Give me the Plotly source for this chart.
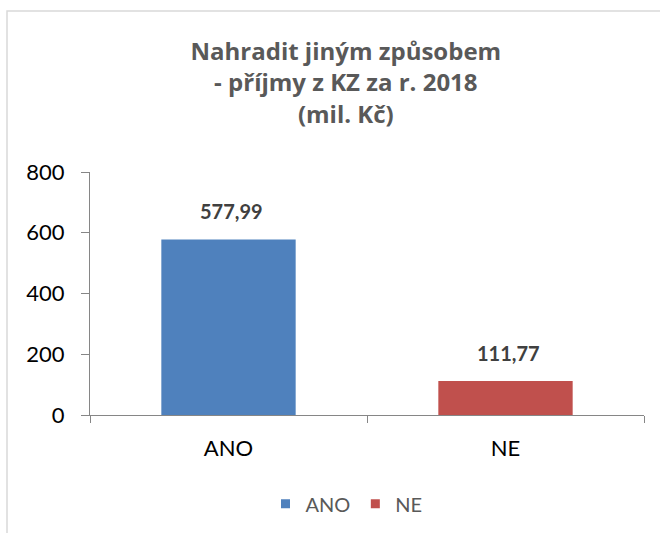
import plotly.graph_objects as go

categories = ["ANO", "NE"]
values = [577.99, 111.77]
colors = ["#4F81BD", "#C0504D"]
title_lines = ["Nahradit jiným způsobem", "- příjmy z KZ za r. 2018", "(mil. Kč)"]
y_ticks = [0, 200, 400, 600, 800]

FONT = "Lato"
fig = go.Figure()

fig.add_trace(go.Bar(
    x=categories, y=values,
    marker=dict(color=colors, line=dict(width=0)),
    width=0.485,
    showlegend=False,
    hoverinfo="skip",
))

# legend entries (small squares like the original)
for c, col in zip(categories, colors):
    fig.add_trace(go.Scatter(
        x=[None], y=[None], mode="markers", name=c,
        marker=dict(symbol="square", size=9, color=col),
    ))

for c, v in zip(categories, values):
    fig.add_annotation(
        x=c, y=v, text="<b>" + f"{v:.2f}".replace(".", ",") + "</b>",
        showarrow=False, yanchor="bottom", yshift=14, xshift=3,
        font=dict(family=FONT, size=20, color="#404040"),
    )

fig.update_layout(
    width=660, height=533,
    margin=dict(l=90, r=16, t=172, b=118, autoexpand=False),
    paper_bgcolor="white", plot_bgcolor="white",
    title=dict(
        text="<b>" + "<br>".join(title_lines) + "</b>",
        x=0.524, xanchor="center", y=0.887, yanchor="top",
        font=dict(family="Open Sans", size=24, color="#595959"),
    ),
    font=dict(family=FONT, color="black"),
    showlegend=True,
    legend=dict(
        orientation="h", x=0.463, xanchor="center", y=-0.365, yanchor="middle",
        font=dict(family=FONT, size=20, color="#595959"),
        itemwidth=30, tracegroupgap=0,
    ),
    xaxis=dict(
        type="category", showline=True, linecolor="#868686", linewidth=1,
        ticks="outside", tickson="boundaries", ticklen=7, tickcolor="#868686",
        tickfont=dict(family=FONT, size=22, color="black"),
        ticklabelstandoff=14, automargin=False,
        showgrid=False, zeroline=False,
    ),
    yaxis=dict(
        range=[0, 800], tickvals=y_ticks, showline=True, linecolor="#868686",
        linewidth=1, ticks="outside", ticklen=8, tickcolor="#868686",
        tickfont=dict(family=FONT, size=22, color="black"),
        ticklabelstandoff=12, automargin=False,
        showgrid=False, zeroline=False,
    ),
    shapes=[dict(
        type="rect", xref="paper", yref="paper",
        x0=-0.1498, x1=1.2, y0=-0.5, y1=1.663,
        line=dict(color="#D9D9D9", width=1.5), fillcolor="rgba(0,0,0,0)", layer="below",
    )],
)

fig.write_html("out.html", config={"displayModeBar": False},
               post_script="document.body.style.margin='0px';")
